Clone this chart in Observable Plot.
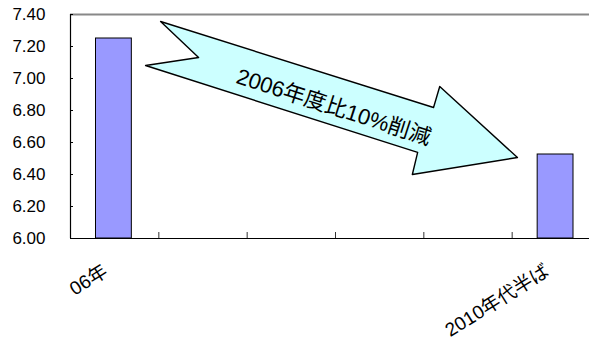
<!DOCTYPE html>
<html>
<head>
<meta charset="utf-8">
<script src="https://cdn.jsdelivr.net/npm/d3@7"></script>
<script src="https://cdn.jsdelivr.net/npm/@observablehq/plot@0.6"></script>
<style>
  html, body { margin: 0; padding: 0; background: #fff; overflow: hidden; }
  #wrap { width: 589px; height: 343px; overflow: hidden; }
  #wrap svg { max-width: none !important; }
</style>
</head>
<body>
<div id="wrap"></div>
<script>
// Category slots along the x axis (Excel category axis, 6 slots)
const slotLabels = ["06年", "", "", "", "", "2010年代半ば"];
// Bars
const barCategories = ["06年", "2010年代半ば"];
const barSlots = [0, 5];
const barValues = [7.25, 6.525];
// Y axis ticks
const yTicks = [6.0, 6.2, 6.4, 6.6, 6.8, 7.0, 7.2, 7.4];
// Annotation arrow (x in slot units, y in value units)
const arrowX = [1.02, 1.45, 0.85, 3.93, 3.87, 5.06, 4.18, 4.11];
const arrowY = [7.356, 7.131, 7.081, 6.538, 6.400, 6.506, 6.950, 6.819];
const arrowText = "2006年度比10%削減";
const arrowTextPos = {x: 2.98, y: 6.82};

const bars = barCategories.map((c, i) => ({cat: c, x1: barSlots[i], x2: barSlots[i] + 1, v: barValues[i]}));
const slots = slotLabels.map((l, i) => ({label: l, x: i + 0.5, i}));
const arrow = arrowX.map((x, i) => ({x, y: arrowY[i]}));
const font = "Liberation Sans, Arial, 'Noto Sans CJK JP', sans-serif";

const chart = Plot.plot({
  width: 600,
  height: 343,
  marginLeft: 70,
  marginRight: 0,
  marginTop: 14,
  marginBottom: 105,
  style: {fontFamily: font, background: "white", overflow: "hidden", maxWidth: "none"},
  x: {type: "linear", domain: [0, slotLabels.length], axis: null},
  y: {domain: [6.0, 7.4], axis: null},
  marks: [
    // top border (gray)
    Plot.ruleY([7.4], {stroke: "#888", strokeWidth: 2}),
    // bars
    Plot.rectY(bars, {x1: "x1", x2: "x2", y1: 6.0, y2: "v", insetLeft: 25.5, insetRight: 27, fill: "#9999FF", stroke: "black", strokeWidth: 1}),
    // category boundary ticks (inward)
    Plot.tickX(slots.filter(d => d.i > 0), {x: "i", stroke: "#333", strokeWidth: 1, insetTop: 218}),
    // y-axis inward ticks
    Plot.ruleY(yTicks, {stroke: "black", strokeWidth: 1, insetRight: 527}),
    // axes lines
    Plot.ruleX([0], {stroke: "black", strokeWidth: 1.2}),
    Plot.ruleY([6.0], {stroke: "black", strokeWidth: 1.2}),
    // y tick labels
    Plot.axisY({ticks: yTicks, tickSize: 0, tickPadding: 25, tickFormat: d => d.toFixed(2), fontSize: 17, label: null, fill: "black"}),
    // x labels (rotated)
    Plot.text(slots.filter(d => d.label), {x: "x", y: 6.0, text: "label", rotate: -32, textAnchor: "end", dy: 31, dx: -9, fontSize: 19, fill: "black"}),
    // annotation arrow
    Plot.line(arrow, {x: "x", y: "y", curve: "linear-closed", fill: "#CCFFFF", stroke: "black", strokeWidth: 1.4}),
    Plot.text([arrowTextPos], {x: "x", y: "y", text: () => arrowText, rotate: 18, fontSize: 22, fill: "black"})
  ]
});
document.getElementById("wrap").appendChild(chart);
</script>
</body>
</html>
